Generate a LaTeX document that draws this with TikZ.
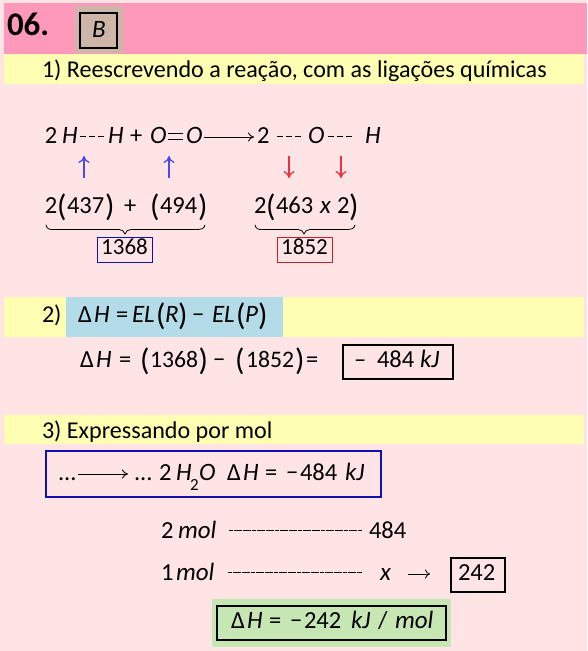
\documentclass[tikz,border=0pt]{standalone}
\usepackage{fontspec}
\setmainfont{Carlito}
\usetikzlibrary{arrows.meta}
\definecolor{bgpale}{HTML}{FFE4E6}
\definecolor{bandpink}{HTML}{FF99BB}
\definecolor{bandyellow}{HTML}{FFFFB3}
\definecolor{tan}{HTML}{CDB5A7}
\definecolor{skyband}{HTML}{B4DCE8}
\definecolor{greenband}{HTML}{C6E6B4}
\definecolor{inkblue}{HTML}{1010B0}
\definecolor{inkred}{HTML}{C81E28}
\definecolor{arrowblue}{HTML}{4A4AF0}
\definecolor{arrowred}{HTML}{F03040}
\tikzset{
  x=1pt,y=-1pt,
  txt/.style={anchor=base west,inner sep=0pt,outer sep=0pt,font=\fontsize{24.5}{27}\selectfont,text=black},
  head/.style={txt,font=\fontsize{24.1}{26}\selectfont},
  math/.style={txt,font=\fontsize{25}{27}\selectfont\itshape},
  paren/.style={txt,font=\fontsize{31}{32}\selectfont},
  boxnum/.style={anchor=base,inner sep=0pt,font=\fontsize{23}{25}\selectfont},
  rownum/.style={txt,font=\fontsize{23.7}{26}\selectfont},
  frameK/.style={draw=black,line width=1.3pt,fill=none},
  frameB/.style={draw=inkblue,line width=0.9pt,fill=none},
  frameR/.style={draw=inkred,line width=0.9pt,fill=none},
  bond/.style={line width=0.8pt,dash pattern=on 6pt off 3pt},
  ruleline/.style={line width=0.7pt,dash pattern=on 4pt off 0.6pt},
  rarrow/.style={line width=0.9pt,-{To[length=6pt,width=9pt]}},
  barrow/.style={draw=arrowblue,line width=1.3pt,-{To[length=7pt,width=11pt]}},
  darrow/.style={draw=arrowred,line width=1.3pt,-{To[length=7pt,width=11pt]}},
  brace/.style={line width=0.8pt,line cap=round},
}
\begin{document}
\begin{tikzpicture}
\useasboundingbox (0,0) rectangle (587,651);
\fill[bgpale] (0,0) rectangle (587,651);
% bands
\fill[bandpink] (4,3) rectangle (587,54);
\fill[bandyellow] (4,54) rectangle (584,84);
\fill[bandyellow] (4,297) rectangle (584,337);
\fill[bandyellow] (4,415) rectangle (584,444);
\fill[skyband] (66,297) rectangle (283,337);
\fill[tan] (75,6) rectangle (123,53);
\fill[greenband] (212,599) rectangle (451,647);
% frames
\draw[frameK] (80,13) rectangle (117,48);
\draw[frameB] (97,237) rectangle (152,262);
\draw[frameR] (277,237) rectangle (332,262);
\draw[frameK] (343,345) rectangle (453,379);
\draw[frameB,line width=1.6pt] (46,451) rectangle (381,497);
\draw[frameK] (451,558) rectangle (505,592);
\draw[frameK] (217,606) rectangle (446,640);
% header
\node[txt,font=\fontsize{33}{34}\selectfont\bfseries] (num) at (7,35) {06.};
\node[math] (ans) at (92,37) {B};
\node[head] (h1) at (42,77) {1) Reescrevendo a reação, com as ligações químicas};
% reaction
\node[txt] (r2) at (45,143) {2};
\node[math] (rH1) at (62,143) {H};
\node[math] (rH2) at (108,143) {H};
\node[txt] (rplus) at (130,143) {+};
\node[math] (rO1) at (150,143) {O};
\node[math] (rO2) at (186,143) {O};
\node[txt] (p2) at (257,143) {2};
\node[math] (pO) at (308,143) {O};
\node[math] (pH) at (365,143) {H};
\coordinate (d1a) at (80,136); \coordinate (d1b) at (105,136);
\coordinate (d2a) at (277,136); \coordinate (d2b) at (302,136);
\coordinate (d3a) at (328,136); \coordinate (d3b) at (354,136);
\draw[bond] (d1a) -- (d1b);
\draw[bond] (d2a) -- (d2b);
\draw[bond] (d3a) -- (d3b);
\draw[line width=0.9pt] (168,133) -- (183,133) (168,139) -- (183,139);
\coordinate (ra) at (204,137); \coordinate (rb) at (254,137);
\draw[rarrow] (ra) -- (rb);
% bond arrows
\coordinate (u1a) at (84,178); \coordinate (u1b) at (84,156);
\coordinate (u2a) at (169,178); \coordinate (u2b) at (169,156);
\coordinate (v1a) at (289,156); \coordinate (v1b) at (289,178);
\coordinate (v2a) at (341,156); \coordinate (v2b) at (341,178);
\draw[barrow] (u1a) -- (u1b);
\draw[barrow] (u2a) -- (u2b);
\draw[darrow] (v1a) -- (v1b);
\draw[darrow] (v2a) -- (v2b);
% energies
\node[txt] (e2) at (45,213) {2};
\node[paren] (ep1) at (57,216) {(};
\node[txt] (e437) at (67,213) {437};
\node[paren] (ep2) at (105,216) {)};
\node[txt] (eplus) at (124,213) {+};
\node[paren] (ep3) at (150,216) {(};
\node[txt] (e494) at (160,213) {494};
\node[paren] (ep4) at (198,216) {)};
\node[txt] (f2) at (254,213) {2};
\node[paren] (fp1) at (266,216) {(};
\node[txt] (f463) at (276,213) {463};
\node[math] (fx) at (320,213) {x};
\node[txt] (f2b) at (337,213) {2};
\node[paren] (fp2) at (349,216) {)};
% braces
\draw[brace] (46,225) .. controls (47,229) and (49,229.5) .. (53,229.5) -- (119,229.5) .. controls (122,229.5) and (124,231) .. (125,234) .. controls (126,231) and (128,229.5) .. (131,229.5) -- (198,229.5) .. controls (201,229.5) and (204,229) .. (205,225);
\draw[brace] (255,225) .. controls (256,229) and (258,229.5) .. (262,229.5) -- (298,229.5) .. controls (301,229.5) and (303,231) .. (304,234) .. controls (305,231) and (307,229.5) .. (310,229.5) -- (348,229.5) .. controls (351,229.5) and (354,229) .. (355,225);
\node[boxnum] (s1) at (124.5,254.5) {1368};
\node[boxnum] (s2) at (304.5,254.5) {1852};
% section 2
\node[head] (h2) at (42,322) {2)};
\node[txt] (dl1) at (78,322) {Δ};
\node[math] (dH1) at (94,322) {H};
\node[txt] (eq1) at (116,322) {=};
\node[math] (el1) at (132,322) {EL};
\node[paren] (gp1) at (156,325) {(};
\node[math] (gR) at (165,322) {R};
\node[paren] (gp2) at (178,325) {)};
\node[txt] (gm) at (192,322) {−};
\node[math] (el2) at (212,322) {EL};
\node[paren] (gp3) at (236,325) {(};
\node[math] (gP) at (245,322) {P};
\node[paren] (gp4) at (258,325) {)};
\node[txt] (dl2) at (80,367) {Δ};
\node[math] (dH2) at (96,367) {H};
\node[txt] (eq2) at (119,367) {=};
\node[paren] (kp1) at (140,370) {(};
\node[rownum] (k1368) at (150,367) {1368};
\node[paren] (kp2) at (198.5,370) {)};
\node[txt] (km) at (213,367) {−};
\node[paren] (kp3) at (235,370) {(};
\node[rownum] (k1852) at (246,367) {1852};
\node[paren] (kp4) at (295,370) {)};
\node[txt] (eq3) at (306,367) {=};
\node[txt] (rm) at (354,367) {–};
\node[txt] (r484) at (377,367) {484};
\node[math] (rkJ) at (420,367) {kJ};
% section 3
\node[head] (h3) at (42,438) {3) Expressando por mol};
\node[txt] (dot1) at (58,480) {...};
\coordinate (qa) at (78,474); \coordinate (qb) at (128,474);
\draw[rarrow] (qa) -- (qb);
\node[txt] (dot2) at (134,480) {...};
\node[txt] (q2) at (159,480) {2};
\node[math] (qH) at (176,480) {H};
\node[txt,font=\fontsize{17}{19}\selectfont] (qsub) at (190,490) {2};
\node[math] (qO) at (199,480) {O};
\node[txt] (dl3) at (227,480) {Δ};
\node[math] (qH2) at (243,480) {H};
\node[txt] (eq4) at (265,480) {=};
\node[txt] (qm) at (286,480) {−};
\node[txt] (q484) at (300,480) {484};
\node[math] (qkJ) at (345,480) {kJ};
% proportion
\node[txt] (m2) at (161,538) {2};
\node[math] (mol1) at (178,538) {mol};
\coordinate (l1a) at (229,530); \coordinate (l1b) at (362,530);
\draw[ruleline] (l1a) -- (l1b);
\node[txt] (v484) at (369,538) {484};
\node[txt] (m1) at (161,580) {1};
\node[math] (mol2) at (176,580) {mol};
\coordinate (l2a) at (228,572); \coordinate (l2b) at (362,572);
\draw[ruleline] (l2a) -- (l2b);
\node[math] (vx) at (380,580) {x};
\coordinate (ta) at (408,574); \coordinate (tb) at (430,574);
\draw[line width=0.8pt,-{To[length=5pt,width=9pt]}] (ta) -- (tb);
\node[txt] (v242) at (458,580) {242};
\node[txt] (dl4) at (231,628) {Δ};
\node[math] (fH) at (247,628) {H};
\node[txt] (eq5) at (269,628) {=};
\node[txt] (fm) at (290,628) {−};
\node[txt] (f242) at (304,628) {242};
\node[math] (fkJ) at (351,628) {kJ};
\node[txt] (fsl) at (378,628) {/};
\node[math] (fmol) at (395,628) {mol};
\end{tikzpicture}
\end{document}
